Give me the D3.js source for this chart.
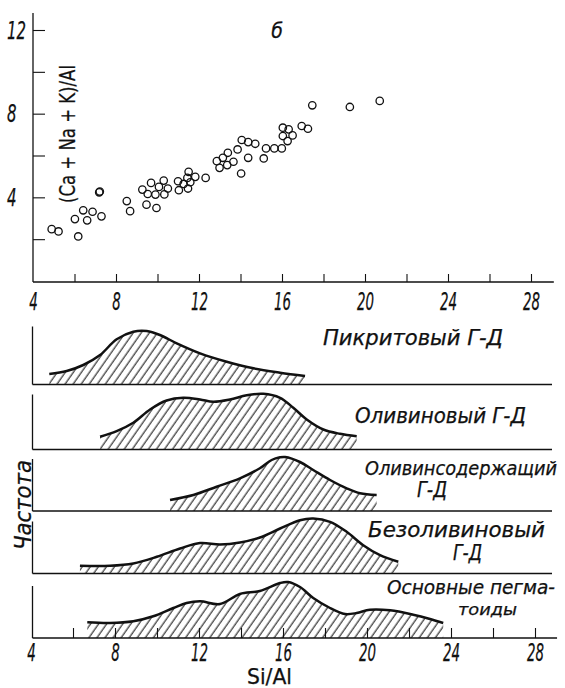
<!DOCTYPE html>
<html>
<head>
<meta charset="utf-8">
<script src="https://cdn.jsdelivr.net/npm/d3@7"></script>
<style>
  body { margin: 0; background: #fff; }
  svg { display: block; }
  text { fill: #111; stroke: #111; stroke-width: 0.25; font-family: "DejaVu Sans Condensed", "Liberation Sans Narrow", "Liberation Sans", sans-serif; }
</style>
</head>
<body>
<div class="box"></div>
<script>
// --- données : nuage de points (Ca+Na+K)/Al vs Si/Al ---
const siAl = [4.9, 5.23, 6.02, 6.18, 6.42, 6.61, 6.87, 7.19, 7.22, 7.3, 8.52, 8.68, 9.27, 9.47, 9.53, 9.69, 9.95, 9.9,
  10.07, 10.3, 10.33, 10.5, 10.99, 11.03, 11.26, 11.47, 11.5, 11.58, 11.44, 11.82, 12.32, 12.86, 12.99, 13.15, 13.39,
  13.36, 13.66, 13.86, 14.06, 14.03, 14.37, 14.37, 14.71, 15.12, 15.23, 15.63, 15.99, 16.04, 16.04, 16.32, 16.27,
  16.51, 16.95, 17.25, 17.46, 19.27, 20.71];
const cationsAl = [2.48, 2.37, 2.96, 2.13, 3.38, 2.9, 3.31, 4.24, 4.28, 3.09, 3.82, 3.34, 4.37, 3.65, 4.16, 4.69, 3.49, 4.13,
  4.5, 4.8, 4.14, 4.42, 4.77, 4.34, 4.64, 4.42, 5.22, 4.72, 4.93, 4.98, 4.93, 5.73, 5.41, 5.89, 6.13,
  5.54, 5.7, 6.29, 6.74, 5.14, 5.89, 6.64, 6.56, 5.86, 6.34, 6.34, 6.34, 7.33, 6.93, 7.25, 6.69,
  6.96, 7.41, 7.28, 8.4, 8.32, 8.61];

const xTicks = [4, 8, 12, 16, 20, 24, 28];
const xMinorTicks = [6, 8, 10, 12, 14, 16, 18, 20, 22, 24, 26, 28];
const yTicks = [4, 8, 12];
const yMinorTicks = [2, 4, 6, 8, 10, 12];

// --- données : courbes de fréquence ---
const pikritX = [4.87, 5.7, 6.49, 7.29, 8.08, 8.87, 9.51, 10.14, 10.94, 12.05, 13.32, 14.59, 15.86, 17.05];
const pikritF = [10.5, 13.5, 19.5, 29.5, 45.2, 52.8, 53.5, 49.5, 41.2, 31.2, 22.8, 16.2, 11.8, 8.5];

const olivX = [7.29, 8.08, 8.87, 9.67, 10.46, 11.25, 12.05, 12.68, 13.48, 14.27, 15.06, 15.86, 16.49, 17.13, 17.92, 18.71, 19.51];
const olivF = [12.7, 18.3, 26.7, 40, 49, 51.7, 50, 47.7, 50, 54.3, 55.7, 51.7, 41.7, 30, 20, 15.7, 13.3];

const olsodX = [10.62, 11.73, 12.84, 13.95, 14.9, 15.46, 15.86, 16.1, 16.81, 17.44, 18.24, 19.03, 19.67, 20.46];
const olsodF = [11, 16, 24.3, 32.7, 42.7, 51, 53.7, 54, 49, 41, 31, 22.7, 17.7, 16];

const bezX = [6.33, 7.76, 8.87, 9.99, 11.1, 12.05, 13.0, 13.95, 14.9, 15.86, 16.81, 17.44, 18.24, 19.03, 19.82, 20.62, 21.49];
const bezF = [7.7, 7.7, 10, 16.7, 25, 30.5, 29, 31, 36, 45, 53.3, 55, 51.7, 41.7, 28.3, 18.3, 11.7];

const pegX = [6.68, 7.76, 8.87, 9.82, 10.78, 11.41, 12.05, 13.0, 13.95, 14.9, 15.86, 16.24, 16.81, 17.44, 18.24, 18.95, 19.51, 20.14, 21.1, 22.2, 23.0, 23.63];
const pegF = [15.7, 15, 16.7, 21.7, 30, 35, 36.7, 34, 44, 47, 55, 56, 51, 40, 30, 24, 25, 28.3, 27.7, 23.3, 19, 15];

const panelLabels = [
  ["Пикритовый  Г-Д"],
  ["Оливиновый  Г-Д"],
  ["Оливинсодержащий", "Г-Д"],
  ["Безоливиновый", "Г-Д"],
  ["Основные  пегма-", "тоиды"]
];

const courbes = [[pikritX, pikritF], [olivX, olivF], [olsodX, olsodF], [bezX, bezF], [pegX, pegF]];

// --- mise en page ---
const svg = d3.select('.box')
              .append('svg')
              .attr('width', 565)
              .attr('height', 688);

const defs = svg.append('defs');
defs.append('pattern')
    .attr('id', 'hachures')
    .attr('patternUnits', 'userSpaceOnUse')
    .attr('width', 6.6)
    .attr('height', 10)
    .attr('patternTransform', 'rotate(35)')
  .append('line')
    .attr('x1', 3).attr('y1', 0).attr('x2', 3).attr('y2', 10)
    .attr('stroke', '#111').attr('stroke-width', 1.05);

const police = sel => sel.style('font-style', 'italic').style('font-size', '24px');

// ===== graphique du haut =====
const x = d3.scaleLinear().domain([4, 28]).range([33, 531]);
const y = d3.scaleLinear().domain([0, 12]).range([281, 30]);

const haut = svg.append('g');

// axe horizontal
haut.append('line')
    .attr('x1', x(4)).attr('x2', x(29.1))
    .attr('y1', 282).attr('y2', 282)
    .attr('stroke', '#111').attr('stroke-width', 1.3);

haut.append('g')
    .attr('transform', 'translate(0,282)')
    .call(d3.axisBottom(x).tickValues(xMinorTicks).tickSize(-8).tickSizeOuter(0).tickFormat(''))
    .call(g => g.select('.domain').remove())
    .call(g => g.selectAll('line').attr('stroke', '#111').attr('stroke-width', 1.1));

haut.append('g')
    .attr('transform', 'translate(0,282)')
    .call(d3.axisBottom(x).tickValues(xTicks).tickSize(0))
    .call(g => g.select('.domain').remove())
    .call(g => g.selectAll('text')
        .call(police)
        .attr('y', 28).attr('dy', 0)
        .attr('textLength', d => String(d).length * 8.5)
        .attr('lengthAdjust', 'spacingAndGlyphs'));

// axe vertical
haut.append('line')
    .attr('x1', 33).attr('x2', 33)
    .attr('y1', 13).attr('y2', 282)
    .attr('stroke', '#111').attr('stroke-width', 1.3);

haut.append('g')
    .attr('transform', 'translate(33,0)')
    .call(d3.axisRight(y).tickValues(yMinorTicks).tickSize(12).tickSizeOuter(0).tickFormat(''))
    .call(g => g.select('.domain').remove())
    .call(g => g.selectAll('line').attr('stroke', '#111').attr('stroke-width', 1.1));

haut.append('g')
    .attr('transform', 'translate(33,0)')
    .call(d3.axisLeft(y).tickValues(yTicks).tickSize(0))
    .call(g => g.select('.domain').remove())
    .call(g => g.selectAll('text')
        .call(police)
        .attr('text-anchor', 'start')
        .attr('x', -26).attr('dy', 0).attr('y', 8)
        .attr('textLength', d => String(d).length * 9.5)
        .attr('lengthAdjust', 'spacingAndGlyphs'));

haut.append('text')
    .attr('transform', 'translate(75,134) rotate(-90)')
    .attr('text-anchor', 'middle')
    .style('font-size', '21px')
    .attr('textLength', 138)
    .attr('lengthAdjust', 'spacingAndGlyphs')
    .text('(Ca + Na + K)/Al');

haut.append('text')
    .attr('x', 277).attr('y', 38)
    .attr('text-anchor', 'middle')
    .style('font-style', 'italic').style('font-size', '21px')
    .text('б');

haut.selectAll('circle')
    .data(siAl)
    .enter()
    .append('circle')
    .attr('cx', d => x(d))
    .attr('cy', (d, i) => y(cationsAl[i]))
    .attr('r', 3.7)
    .attr('fill', 'none')
    .attr('stroke', '#111')
    .attr('stroke-width', 1.3);

// ===== courbes de fréquence =====
const xb = d3.scaleLinear().domain([4, 28]).range([31, 535]);
const bases = [384.5, 449.5, 511, 573.5, 638];
const hauteurs = [58, 55, 52, 52, 52];
const etiquettes = [
  [{x: 323, y: 345, l: 180, f: 21, a: 'start'}],
  [{x: 355, y: 423, l: 171, f: 21, a: 'start'}],
  [{x: 557, y: 475, l: 192, f: 20, a: 'end'}, {x: 417, y: 497, l: 30, f: 21, a: 'start'}],
  [{x: 368, y: 537, l: 177, f: 21, a: 'start'}, {x: 453, y: 560, l: 29, f: 21, a: 'start'}],
  [{x: 387, y: 594, l: 168, f: 19, a: 'start'}, {x: 458, y: 615, l: 59, f: 16, a: 'start'}]
];

courbes.forEach(([xs, fs], p) => {
    const base = bases[p];
    const yf = d3.scaleLinear().domain([0, 60]).range([base, base - 60]);
    const g = svg.append('g');
    const pts = xs.map((v, i) => [v, fs[i]]);

    const aire = d3.area()
        .x(d => xb(d[0]))
        .y0(base)
        .y1(d => yf(d[1]))
        .curve(d3.curveCatmullRom.alpha(0.5));

    const ligne = d3.line()
        .x(d => xb(d[0]))
        .y(d => yf(d[1]))
        .curve(d3.curveCatmullRom.alpha(0.5));

    g.append('path').attr('d', aire(pts)).attr('fill', 'url(#hachures)');
    g.append('path').attr('d', ligne(pts))
        .attr('fill', 'none').attr('stroke', '#111').attr('stroke-width', 2.5);

    // axe gauche et ligne de base
    g.append('line')
        .attr('x1', 32.5).attr('x2', 32.5)
        .attr('y1', base - hauteurs[p]).attr('y2', base)
        .attr('stroke', '#111').attr('stroke-width', 1.3);
    g.append('line')
        .attr('x1', 32.5).attr('x2', p === 4 ? xb(29.05) : 552)
        .attr('y1', base).attr('y2', base)
        .attr('stroke', '#111').attr('stroke-width', 1.3);

    panelLabels[p].forEach((t, k) => {
        const e = etiquettes[p][k];
        g.append('text')
            .attr('x', e.x).attr('y', e.y)
            .attr('text-anchor', e.a)
            .style('font-style', 'italic').style('font-size', e.f + 'px')
            .attr('textLength', e.l)
            .attr('lengthAdjust', 'spacingAndGlyphs')
            .text(t);
    });
});

// axe du bas
const bas = svg.append('g').attr('transform', 'translate(0,638)');
bas.call(d3.axisBottom(xb).tickValues(xMinorTicks).tickSize(-10).tickSizeOuter(0).tickFormat(''))
   .call(g => g.select('.domain').remove())
   .call(g => g.selectAll('line').attr('stroke', '#111').attr('stroke-width', 1.1));

svg.append('g')
   .attr('transform', 'translate(0,638)')
   .call(d3.axisBottom(xb).tickValues(xTicks).tickSize(0))
   .call(g => g.select('.domain').remove())
   .call(g => g.selectAll('text')
       .call(police)
       .attr('y', 23).attr('dy', 0)
       .attr('textLength', d => String(d).length * 8.5)
       .attr('lengthAdjust', 'spacingAndGlyphs'));

svg.append('text')
   .attr('x', 247).attr('y', 684)
   .style('font-size', '21px')
   .attr('textLength', 45)
   .attr('lengthAdjust', 'spacingAndGlyphs')
   .text('Si/Al');

svg.append('text')
   .attr('transform', 'translate(31,505) rotate(-90)')
   .attr('text-anchor', 'middle')
   .style('font-style', 'italic').style('font-size', '23px')
   .attr('textLength', 90)
   .attr('lengthAdjust', 'spacingAndGlyphs')
   .text('Частота');
</script>
</body>
</html>
